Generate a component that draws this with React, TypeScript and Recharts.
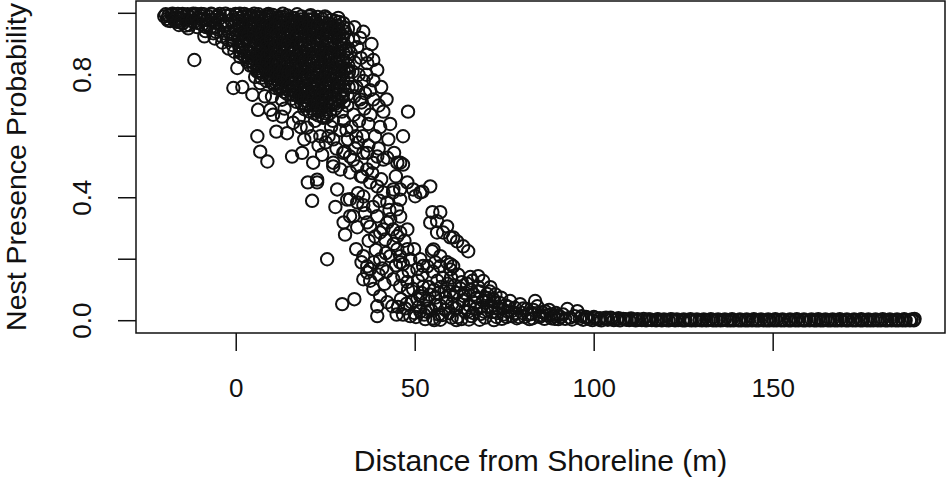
import { ScatterChart, Scatter, XAxis, YAxis, ReferenceArea, Label } from 'recharts';

type Pt = [number, number];

// distance (m), nest presence probability
const shoreBand: Pt[] = [
  [-20.1, 0.99], [-19.7, 0.997], [-19.3, 0.982], [-18.9, 0.993], [-18.4, 0.975], [-18.0, 0.996],
  [-17.6, 0.985], [-17.1, 0.992], [-16.7, 0.972], [-16.3, 0.998], [-15.8, 0.983], [-15.4, 0.994],
  [-14.9, 0.968], [-14.5, 0.99], [-14.0, 0.979], [-13.6, 0.997], [-13.1, 0.962], [-12.7, 0.986],
  [-12.2, 0.993], [-11.8, 0.971], [-11.3, 0.998], [-10.9, 0.955], [-10.4, 0.984], [-10.0, 0.992],
  [-9.5, 0.963], [-9.1, 0.997], [-8.6, 0.942], [-8.2, 0.978], [-7.7, 0.99], [-7.3, 0.952],
  [-6.8, 0.996], [-6.4, 0.935], [-5.9, 0.969], [-5.5, 0.988], [-5.0, 0.947], [-4.6, 0.998],
  [-4.1, 0.925], [-3.7, 0.975], [-3.2, 0.958], [-2.8, 0.992], [-2.3, 0.913], [-1.9, 0.94],
  [-1.4, 0.978], [-1.0, 0.897], [-0.6, 0.96], [-0.2, 0.998], [-0.5, 0.875], [-1.6, 0.995],
  [-3.0, 0.999], [-5.2, 0.992], [-7.0, 0.999], [-9.8, 0.998], [-12.0, 0.999], [-15.0, 0.998],
  [-17.8, 0.999], [-11.7, 0.848], [-16.0, 0.962], [-13.4, 0.951], [-8.9, 0.925], [-6.0, 0.918],
  [-3.9, 0.905], [-2.1, 0.885], [-0.9, 0.93],
  [-19.0, 0.976], [-17.3, 0.978], [-15.6, 0.97], [-14.2, 0.96], [-12.4, 0.975], [-10.6, 0.968],
  [-9.0, 0.982], [-7.9, 0.962], [-6.6, 0.978], [-5.7, 0.94], [-4.4, 0.962], [-3.4, 0.935],
  [-2.6, 0.965], [-1.2, 0.915], [-0.3, 0.945], [-4.8, 0.982], [-8.4, 0.955], [-11.1, 0.983],
];

const crestCore: Pt[] = [
  [0.2, 0.995], [0.6, 0.975], [1.1, 0.955], [0.4, 0.93], [1.5, 0.91], [0.9, 0.89], [1.8, 0.99], [1.3, 0.87],
  [2.3, 0.998], [2.7, 0.965], [3.1, 0.945], [2.5, 0.92], [3.6, 0.9], [2.9, 0.88], [3.8, 0.985], [3.3, 0.855], [3.9, 0.83],
  [4.2, 0.993], [4.6, 0.97], [5.1, 0.95], [4.4, 0.925], [5.6, 0.905], [4.9, 0.885], [5.8, 0.985], [5.3, 0.86], [4.7, 0.84], [5.9, 0.82],
  [6.2, 0.997], [6.6, 0.975], [7.1, 0.955], [6.4, 0.935], [7.6, 0.91], [6.9, 0.89], [7.8, 0.985], [7.3, 0.865], [6.7, 0.845], [7.9, 0.825], [7.4, 0.8],
  [8.2, 0.99], [8.7, 0.97], [9.1, 0.945], [8.4, 0.925], [9.6, 0.9], [8.9, 0.88], [9.8, 0.98], [9.3, 0.855], [8.6, 0.835], [9.9, 0.815], [9.4, 0.79],
  [10.2, 0.995], [10.6, 0.965], [11.1, 0.95], [10.4, 0.92], [11.6, 0.905], [10.9, 0.875], [11.8, 0.985], [11.3, 0.85], [10.7, 0.83], [11.9, 0.81], [11.4, 0.785], [10.5, 0.77],
  [12.2, 0.99], [12.6, 0.97], [13.1, 0.94], [12.4, 0.915], [13.6, 0.9], [12.9, 0.875], [13.8, 0.98], [13.3, 0.85], [12.7, 0.825], [13.9, 0.805], [13.4, 0.78], [12.5, 0.76],
  [14.2, 0.993], [14.7, 0.96], [15.1, 0.945], [14.4, 0.92], [15.6, 0.895], [14.9, 0.87], [15.8, 0.975], [15.3, 0.845], [14.6, 0.82], [15.9, 0.8], [15.4, 0.775], [14.5, 0.75], [15.7, 0.735],
  [16.2, 0.985], [16.6, 0.965], [17.1, 0.935], [16.4, 0.915], [17.6, 0.89], [16.9, 0.865], [17.8, 0.97], [17.3, 0.84], [16.7, 0.815], [17.9, 0.795], [17.4, 0.77], [16.5, 0.745], [17.7, 0.725],
  [18.2, 0.99], [18.7, 0.955], [19.1, 0.94], [18.4, 0.91], [19.6, 0.885], [18.9, 0.86], [19.8, 0.965], [19.3, 0.835], [18.6, 0.81], [19.9, 0.79], [19.4, 0.765], [18.5, 0.74], [19.7, 0.715], [19.1, 0.7],
  [20.2, 0.98], [20.6, 0.955], [21.1, 0.93], [20.4, 0.905], [21.6, 0.885], [20.9, 0.855], [21.8, 0.97], [21.3, 0.83], [20.7, 0.805], [21.9, 0.78], [21.4, 0.76], [20.5, 0.735], [21.7, 0.71], [21.1, 0.69],
  [22.2, 0.975], [22.7, 0.95], [23.1, 0.925], [22.4, 0.9], [23.6, 0.88], [22.9, 0.85], [23.8, 0.96], [23.3, 0.825], [22.6, 0.8], [23.9, 0.775], [23.4, 0.75], [22.5, 0.73], [23.7, 0.705], [23.0, 0.68],
  [24.2, 0.97], [24.6, 0.945], [25.1, 0.92], [24.4, 0.895], [25.6, 0.87], [24.9, 0.845], [25.8, 0.955], [25.3, 0.82], [24.7, 0.795], [25.9, 0.77], [25.4, 0.745], [24.5, 0.72], [25.7, 0.7], [25.0, 0.675], [24.3, 0.66],
  [26.2, 0.965], [26.7, 0.935], [27.1, 0.91], [26.4, 0.885], [27.6, 0.86], [26.9, 0.835], [27.8, 0.945], [27.3, 0.81], [26.6, 0.785], [27.9, 0.76], [27.4, 0.735], [26.5, 0.71], [27.7, 0.69],
  [28.3, 0.96], [28.8, 0.93], [29.4, 0.9], [28.5, 0.875], [29.9, 0.85], [29.1, 0.825], [30.4, 0.94], [29.6, 0.8], [28.7, 0.775], [30.2, 0.75], [29.5, 0.725], [28.4, 0.7], [30.6, 0.88], [30.9, 0.82],
  [28.5, 0.985], [1.0, 0.999], [5.0, 0.999], [9.0, 0.998], [13.0, 0.999], [17.0, 0.997], [20.8, 0.994], [24.8, 0.99],
];

const crestDense: Pt[] = [
  [0.8, 0.985], [0.7, 0.962], [0.9, 0.942], [0.6, 0.918], [0.8, 0.897], [1.0, 0.878],
  [2.0, 0.978], [1.9, 0.955], [2.1, 0.933], [2.0, 0.907], [1.8, 0.884], [2.2, 0.862],
  [3.4, 0.992], [3.5, 0.968], [3.3, 0.93], [3.5, 0.912], [3.4, 0.872], [3.6, 0.846],
  [4.8, 0.98], [4.7, 0.957], [4.9, 0.936], [4.8, 0.912], [4.6, 0.871], [5.0, 0.85], [4.8, 0.828],
  [6.0, 0.99], [5.9, 0.963], [6.1, 0.944], [6.0, 0.918], [5.8, 0.898], [6.2, 0.876], [6.0, 0.856], [5.9, 0.834], [6.1, 0.812],
  [7.2, 0.978], [7.0, 0.96], [7.3, 0.938], [7.1, 0.92], [7.2, 0.897], [7.0, 0.876], [7.3, 0.852], [7.1, 0.832], [7.2, 0.81], [7.0, 0.79],
  [8.5, 0.995], [8.4, 0.958], [8.6, 0.936], [8.5, 0.908], [8.3, 0.892], [8.6, 0.866], [8.4, 0.845], [8.5, 0.82], [8.7, 0.8], [8.4, 0.78],
  [9.7, 0.988], [9.6, 0.96], [9.8, 0.938], [9.6, 0.915], [9.7, 0.888], [9.5, 0.865], [9.8, 0.842], [9.6, 0.82], [9.7, 0.8], [9.8, 0.775],
  [11.0, 0.98], [10.9, 0.958], [11.1, 0.935], [11.0, 0.913], [10.8, 0.89], [11.1, 0.866], [11.0, 0.84], [10.9, 0.818], [11.1, 0.797], [11.0, 0.775], [10.9, 0.757],
  [12.0, 0.975], [12.1, 0.955], [11.9, 0.93], [12.0, 0.908], [12.2, 0.885], [12.0, 0.862], [11.9, 0.84], [12.1, 0.815], [12.0, 0.795], [11.9, 0.773], [12.1, 0.752],
  [13.2, 0.988], [13.0, 0.96], [13.3, 0.925], [13.1, 0.91], [13.2, 0.888], [13.0, 0.862], [13.3, 0.838], [13.1, 0.815], [13.2, 0.792], [13.0, 0.768], [13.3, 0.745],
  [14.4, 0.975], [14.3, 0.95], [14.5, 0.933], [14.3, 0.905], [14.5, 0.885], [14.4, 0.858], [14.2, 0.834], [14.5, 0.808], [14.3, 0.788], [14.4, 0.762], [14.2, 0.738],
  [15.6, 0.985], [15.5, 0.958], [15.7, 0.93], [15.5, 0.91], [15.6, 0.88], [15.4, 0.858], [15.7, 0.832], [15.5, 0.81], [15.6, 0.788], [15.4, 0.762], [15.7, 0.748], [15.5, 0.722],
  [16.8, 0.975], [16.7, 0.95], [16.9, 0.925], [16.8, 0.902], [16.6, 0.878], [16.9, 0.852], [16.7, 0.828], [16.8, 0.805], [16.6, 0.782], [16.9, 0.758], [16.7, 0.735], [16.8, 0.712],
  [18.0, 0.98], [17.9, 0.958], [18.1, 0.925], [18.0, 0.9], [17.8, 0.875], [18.1, 0.85], [17.9, 0.825], [18.0, 0.8], [18.1, 0.78], [17.9, 0.755], [18.0, 0.73], [18.2, 0.708],
  [19.2, 0.975], [19.1, 0.952], [19.3, 0.925], [19.2, 0.897], [19.0, 0.872], [19.3, 0.848], [19.1, 0.822], [19.2, 0.8], [19.0, 0.778], [19.3, 0.752], [19.1, 0.728], [19.2, 0.705], [19.0, 0.688],
  [20.4, 0.99], [20.3, 0.966], [20.5, 0.94], [20.4, 0.918], [20.2, 0.892], [20.5, 0.868], [20.3, 0.842], [20.4, 0.818], [20.2, 0.792], [20.5, 0.77], [20.3, 0.748], [20.4, 0.722], [20.2, 0.7], [20.5, 0.68],
  [21.6, 0.982], [21.5, 0.958], [21.7, 0.94], [21.6, 0.912], [21.4, 0.895], [21.7, 0.862], [21.5, 0.845], [21.6, 0.818], [21.4, 0.795], [21.7, 0.772], [21.5, 0.745], [21.6, 0.722], [21.4, 0.7], [21.7, 0.675],
  [22.8, 0.988], [22.7, 0.962], [22.9, 0.938], [22.8, 0.915], [22.6, 0.888], [22.9, 0.865], [22.7, 0.838], [22.8, 0.812], [22.6, 0.79], [22.9, 0.762], [22.7, 0.742], [22.8, 0.715], [22.6, 0.692], [22.9, 0.668],
  [24.0, 0.982], [23.9, 0.958], [24.1, 0.932], [24.0, 0.91], [23.8, 0.885], [24.1, 0.86], [23.9, 0.835], [24.0, 0.81], [23.8, 0.785], [24.1, 0.76], [23.9, 0.738], [24.0, 0.712], [23.8, 0.69], [24.1, 0.665],
  [25.2, 0.985], [25.1, 0.96], [25.3, 0.935], [25.2, 0.905], [25.0, 0.882], [25.3, 0.858], [25.1, 0.832], [25.2, 0.808], [25.0, 0.782], [25.3, 0.758], [25.1, 0.732], [25.2, 0.708], [25.0, 0.688], [25.3, 0.662],
  [26.4, 0.978], [26.3, 0.952], [26.5, 0.925], [26.4, 0.9], [26.2, 0.872], [26.5, 0.848], [26.3, 0.822], [26.4, 0.798], [26.2, 0.772], [26.5, 0.748], [26.3, 0.725], [26.4, 0.7], [26.2, 0.675],
  [27.6, 0.975], [27.5, 0.955], [27.7, 0.925], [27.6, 0.895], [27.4, 0.872], [27.7, 0.845], [27.5, 0.822], [27.6, 0.795], [27.4, 0.772], [27.7, 0.748], [27.5, 0.72], [27.6, 0.705],
  [28.8, 0.972], [28.7, 0.945], [28.9, 0.915], [28.8, 0.89], [28.6, 0.862], [28.9, 0.84], [28.7, 0.812], [28.8, 0.79], [28.6, 0.762], [28.9, 0.738], [28.7, 0.715],
  [30.0, 0.955], [29.9, 0.925], [30.1, 0.9], [30.0, 0.87], [29.8, 0.84], [30.1, 0.812], [29.9, 0.785], [30.0, 0.762], [29.8, 0.735], [30.1, 0.712],
  [31.2, 0.915], [31.4, 0.885], [31.1, 0.855], [31.3, 0.83], [31.2, 0.79], [31.4, 0.76], [31.1, 0.735],
];

const crestFringe: Pt[] = [
  [1.1, 0.858], [3.1, 0.842], [0.3, 0.822], [5.9, 0.81], [5.3, 0.793], [6.7, 0.773], [-0.8, 0.757], [1.7, 0.76],
  [4.5, 0.735], [10.0, 0.729], [6.1, 0.686], [9.5, 0.686], [10.3, 0.67], [12.8, 0.719], [12.8, 0.664], [15.9, 0.644],
  [19.8, 0.628], [11.2, 0.615], [14.2, 0.61], [5.9, 0.6], [23.5, 0.6], [27.1, 0.59], [6.7, 0.55], [15.6, 0.534],
  [18.4, 0.546], [8.7, 0.518], [21.5, 0.514], [27.1, 0.514],
  [29.9, 0.968], [32.7, 0.913], [34.6, 0.92], [33.8, 0.89], [36.6, 0.865], [38.3, 0.848], [36.6, 0.838], [39.4, 0.816],
  [38.3, 0.782], [37.4, 0.75], [34.6, 0.72], [38.3, 0.72], [41.1, 0.68], [48.0, 0.68], [40.2, 0.63], [42.5, 0.59],
  [46.6, 0.6], [44.1, 0.546], [46.6, 0.508], [45.8, 0.514], [41.1, 0.524], [38.3, 0.513], [35.5, 0.546], [31.8, 0.534],
  [31.2, 0.95], [32.0, 0.87], [33.1, 0.84], [31.5, 0.81], [34.2, 0.8], [32.4, 0.76], [35.6, 0.78], [33.0, 0.73],
  [31.0, 0.7], [35.8, 0.69], [32.8, 0.67], [30.1, 0.65], [34.3, 0.65], [36.9, 0.64], [29.0, 0.62], [33.5, 0.6],
  [31.2, 0.59], [35.4, 0.6], [38.8, 0.6], [28.0, 0.56], [30.3, 0.55], [33.2, 0.56], [36.9, 0.57], [39.8, 0.56],
  [25.0, 0.58], [24.0, 0.54], [19.0, 0.59], [17.5, 0.66], [22.0, 0.65], [26.5, 0.63], [36.0, 0.74], [39.8, 0.7],
  [37.5, 0.67], [43.0, 0.64], [40.5, 0.76], [42.0, 0.72], [37.8, 0.9], [35.5, 0.94], [33.0, 0.955],
  [32.5, 0.81], [34.8, 0.855], [33.6, 0.76], [35.0, 0.71], [36.4, 0.8], [30.8, 0.62], [32.2, 0.63], [34.0, 0.58],
  [29.5, 0.68], [27.0, 0.65], [25.8, 0.6], [21.0, 0.6], [18.0, 0.63], [23.0, 0.57], [13.5, 0.69], [8.0, 0.73],
];

const slopeMid: Pt[] = [
  [29.9, 0.546], [32.7, 0.524], [36.6, 0.546], [39.4, 0.534], [42.2, 0.53], [45.0, 0.514], [27.1, 0.502], [29.1, 0.492],
  [31.8, 0.482], [33.8, 0.502], [35.2, 0.469], [36.6, 0.492], [37.4, 0.45], [39.4, 0.437], [41.1, 0.417], [42.2, 0.385],
  [43.9, 0.427], [45.8, 0.394], [47.8, 0.45], [49.4, 0.427], [51.4, 0.417], [28.2, 0.427], [31.0, 0.394], [33.8, 0.385],
  [35.5, 0.404], [31.8, 0.34], [33.8, 0.304], [36.6, 0.32], [39.4, 0.34], [41.1, 0.297], [43.0, 0.33], [45.0, 0.275],
  [35.5, 0.21], [36.6, 0.177], [37.4, 0.168], [40.2, 0.2], [43.0, 0.21], [45.0, 0.233], [45.8, 0.19], [47.8, 0.233],
  [43.9, 0.135], [45.8, 0.113], [47.8, 0.126], [49.4, 0.103], [51.4, 0.08],
  [20.0, 0.45], [22.6, 0.45], [21.2, 0.39], [22.6, 0.459], [25.4, 0.2], [27.7, 0.37], [30.4, 0.28], [30.0, 0.32], [32.7, 0.34],
  [31.8, 0.395], [34.0, 0.415], [35.5, 0.376], [33.5, 0.233], [35.0, 0.19], [36.6, 0.157], [35.5, 0.135], [37.4, 0.13],
  [37.4, 0.306], [38.8, 0.274], [40.2, 0.287], [42.2, 0.319], [41.6, 0.264], [43.8, 0.297], [45.8, 0.287], [47.8, 0.297],
  [45.8, 0.339], [44.9, 0.362], [43.8, 0.417], [45.8, 0.427], [40.8, 0.17], [45.8, 0.21], [46.6, 0.184], [46.4, 0.145],
  [49.7, 0.233], [51.4, 0.2], [50.6, 0.168], [52.2, 0.178], [54.2, 0.437], [52.0, 0.42], [50.0, 0.405], [54.8, 0.353],
  [57.0, 0.353], [56.1, 0.324], [58.9, 0.307], [60.6, 0.271], [63.4, 0.242], [64.8, 0.226], [55.1, 0.232], [57.0, 0.21],
  [58.9, 0.19], [59.8, 0.167], [60.6, 0.177], [54.2, 0.319], [56.1, 0.287], [57.8, 0.287], [59.8, 0.271], [61.7, 0.258],
  [54.7, 0.226], [53.4, 0.177], [55.6, 0.19], [57.0, 0.177], [59.8, 0.184],
  [34.8, 0.47], [38.0, 0.48], [40.5, 0.46], [44.6, 0.47], [36.0, 0.35], [38.2, 0.37], [40.0, 0.39], [42.8, 0.36],
  [37.0, 0.26], [39.0, 0.23], [41.8, 0.22], [44.0, 0.25], [38.4, 0.19], [42.0, 0.16], [44.6, 0.18], [47.0, 0.26],
  [48.6, 0.2], [39.8, 0.15], [41.4, 0.12], [48.2, 0.16],
];

const toeCluster: Pt[] = [
  [29.6, 0.054], [33.0, 0.07], [39.4, 0.015], [38.3, 0.103], [40.2, 0.08], [42.2, 0.06], [43.6, 0.047], [39.4, 0.047],
  [48.6, 0.015], [51.4, 0.03], [55.3, 0.002], [44.8, 0.02], [46.0, 0.07], [47.2, 0.04], [48.0, 0.1], [49.0, 0.06], [49.8, 0.025],
  [50.2, 0.012], [51.0, 0.045], [51.8, 0.09], [52.5, 0.02], [53.1, 0.065], [53.8, 0.11], [54.4, 0.035], [55.0, 0.008],
  [55.6, 0.075], [56.2, 0.13], [56.9, 0.05], [57.5, 0.018], [58.1, 0.095], [58.8, 0.06], [59.4, 0.025], [60.0, 0.14],
  [60.7, 0.08], [61.3, 0.04], [61.9, 0.012], [62.6, 0.105], [63.2, 0.065], [63.8, 0.03], [64.5, 0.12], [65.1, 0.05],
  [65.7, 0.015], [66.4, 0.085], [67.0, 0.04], [67.6, 0.11], [68.3, 0.022], [68.9, 0.065], [69.5, 0.01], [70.2, 0.045],
  [70.8, 0.095], [71.4, 0.028], [72.1, 0.06], [72.7, 0.012], [73.3, 0.04], [74.0, 0.075], [74.6, 0.02], [75.2, 0.05],
  [50.8, 0.13], [52.0, 0.15], [54.9, 0.16], [57.7, 0.14], [59.0, 0.12], [61.0, 0.115], [62.0, 0.15], [64.0, 0.09],
  [66.0, 0.13], [55.3, 0.1], [53.5, 0.04], [58.4, 0.035], [62.9, 0.005], [60.3, 0.055], [56.5, 0.09], [66.8, 0.058],
  [69.8, 0.075], [71.8, 0.07], [70.1, 0.087], [71.0, 0.109], [69.0, 0.129], [67.6, 0.145], [65.4, 0.142],
  [52.8, 0.005], [57.0, 0.003], [61.5, 0.002], [65.0, 0.004], [68.0, 0.003], [72.0, 0.002], [74.2, 0.006],
  [50.6, 0.07], [52.2, 0.11], [53.0, 0.03], [54.0, 0.085], [55.8, 0.05], [56.6, 0.02], [57.2, 0.11], [58.5, 0.075],
  [59.6, 0.095], [60.2, 0.01], [61.6, 0.09], [62.2, 0.055], [63.0, 0.125], [63.6, 0.08], [64.8, 0.03], [65.6, 0.1],
  [66.2, 0.025], [67.2, 0.075], [68.0, 0.095], [68.6, 0.045], [69.2, 0.03], [70.5, 0.065], [71.2, 0.045], [72.4, 0.085],
  [73.0, 0.025], [73.6, 0.058], [74.4, 0.038], [75.5, 0.012], [76.0, 0.045], [47.6, 0.055], [46.6, 0.02], [45.2, 0.045],
  [75.8, 0.03], [76.5, 0.064], [77.1, 0.015], [77.8, 0.042], [78.4, 0.008], [79.3, 0.054], [79.9, 0.025], [80.6, 0.012],
  [81.2, 0.038], [81.9, 0.005], [82.5, 0.022], [83.5, 0.064], [84.1, 0.047], [84.8, 0.012], [85.4, 0.028], [86.1, 0.006],
  [86.7, 0.018], [87.4, 0.035], [88.0, 0.008], [88.7, 0.015], [89.3, 0.025], [90.0, 0.005], [90.6, 0.012], [91.3, 0.02],
  [91.9, 0.006], [92.5, 0.038], [93.2, 0.01], [93.8, 0.004], [94.5, 0.015], [95.3, 0.031],
  [76.8, 0.03], [78.0, 0.025], [79.0, 0.012], [80.2, 0.04], [81.5, 0.02], [82.8, 0.008], [83.0, 0.035], [85.0, 0.018],
  [86.4, 0.03], [87.8, 0.02], [89.0, 0.006], [89.8, 0.018],
];

const flatTail: Pt[] = [
  [96.0, 0.008], [96.9, 0.003], [97.7, 0.012], [98.6, 0.005], [99.5, 0.002], [100.3, 0.009], [101.2, 0.004], [102.0, 0.001],
  [102.9, 0.007], [103.8, 0.003], [104.6, 0.01], [105.5, 0.002], [106.4, 0.005], [107.2, 0.001], [108.1, 0.006], [109.0, 0.003],
  [109.8, 0.002], [110.7, 0.004], [111.6, 0.001], [112.4, 0.003], [113.3, 0.002], [114.5, 0.001], [115.2, 0.004], [116.1, 0.002],
  [117.3, 0.001], [118.0, 0.003], [118.9, 0.001], [120.1, 0.002], [120.8, 0.001], [121.9, 0.003], [122.6, 0.001], [123.5, 0.002],
  [124.7, 0.001], [125.4, 0.001], [126.6, 0.002], [127.2, 0.001], [128.3, 0.001], [129.4, 0.002], [130.1, 0.001], [131.3, 0.001],
  [132.0, 0.002], [133.2, 0.001], [134.1, 0.001], [135.3, 0.001], [136.0, 0.002], [137.2, 0.001], [138.1, 0.001], [139.0, 0.001],
  [140.3, 0.001], [141.1, 0.001], [142.2, 0.001], [143.0, 0.001], [144.1, 0.001], [145.2, 0.001], [146.0, 0.001], [147.3, 0.001],
  [148.2, 0.001], [149.0, 0.001], [150.1, 0.001], [151.0, 0.001], [152.2, 0.001], [153.1, 0.001], [154.3, 0.001], [155.0, 0.001],
  [156.2, 0.001], [157.1, 0.001], [158.3, 0.001], [159.0, 0.001], [160.2, 0.001], [161.4, 0.001], [162.1, 0.001], [163.2, 0.001],
  [164.0, 0.001], [165.3, 0.001], [166.1, 0.001], [167.2, 0.001], [168.0, 0.001], [169.1, 0.001], [170.3, 0.001], [171.0, 0.001],
  [172.2, 0.001], [173.1, 0.001], [174.3, 0.001], [175.0, 0.001], [176.2, 0.001], [177.1, 0.001], [178.0, 0.001], [179.2, 0.001],
  [180.1, 0.001], [181.3, 0.001], [182.0, 0.001], [183.1, 0.001], [184.2, 0.001], [185.0, 0.001], [186.1, 0.001], [187.0, 0.001],
  [188.2, 0.001], [189.3, 0.001],
  [96.5, 0.015], [98.1, 0.01], [99.9, 0.012], [101.6, 0.008], [103.3, 0.01], [105.0, 0.006], [106.8, 0.008], [108.6, 0.005],
  [110.3, 0.007], [112.0, 0.005], [113.8, 0.006], [115.6, 0.004], [117.7, 0.005], [119.5, 0.004], [121.4, 0.005], [123.1, 0.004],
  [125.0, 0.004], [126.9, 0.005], [128.7, 0.004], [130.6, 0.004], [132.6, 0.005], [134.6, 0.004], [136.5, 0.004], [138.5, 0.005],
  [140.7, 0.004], [142.6, 0.004], [144.6, 0.005], [146.6, 0.004], [148.6, 0.004], [150.6, 0.005], [152.6, 0.004], [154.7, 0.004],
  [156.6, 0.005], [158.6, 0.004], [160.7, 0.004], [162.6, 0.005], [164.6, 0.004], [166.6, 0.004], [168.6, 0.005], [170.6, 0.004],
  [172.6, 0.004], [174.6, 0.005], [176.6, 0.004], [178.6, 0.004], [180.6, 0.005], [182.6, 0.004], [184.6, 0.004], [186.6, 0.005],
  [188.7, 0.004], [189.5, 0.006],
];

const xTicks = [0, 50, 100, 150];
const yTicks = [0, 0.2, 0.4, 0.6, 0.8, 1];
const yTickLabels = ['0.0', '', '0.4', '', '0.8', ''];

const points = [...shoreBand, ...crestCore, ...crestDense, ...crestFringe, ...slopeMid, ...toeCluster, ...flatTail].map(
  ([distance, prob]) => ({ distance, prob })
);

const FONT = '"Liberation Sans", Arial, sans-serif';
const INK = '#111';

const XTick = ({ x, y, payload }: any) => (
  <text x={x} y={y + 35} textAnchor="middle" dominantBaseline="central" fontSize={26} fontFamily={FONT} fill={INK}>
    {payload.value}
  </text>
);

const YTick = ({ x, y, index }: any) => {
  const label = yTickLabels[index];
  if (!label) return null;
  const cx = x - 34;
  return (
    <text x={cx} y={y} transform={`rotate(-90 ${cx} ${y})`} textAnchor="middle" dominantBaseline="central" fontSize={26} fontFamily={FONT} fill={INK}>
      {label}
    </text>
  );
};

const Ring = (p: any) => <circle cx={p.cx} cy={p.cy} r={6.2} fill="none" stroke={INK} strokeWidth={2} />;

export default function App() {
  return (
    <div style={{ position: 'absolute', left: 0, top: 0, width: 950, height: 479, background: '#fff' }}>
      <ScatterChart width={950} height={479} margin={{ top: 1, right: 5, bottom: 0, left: 0 }}>
        <XAxis
          type="number"
          dataKey="distance"
          domain={[-28, 198]}
          allowDataOverflow
          ticks={xTicks}
          height={146}
          tickSize={18}
          axisLine={false}
          tickLine={{ stroke: INK, strokeWidth: 1.5 }}
          tick={<XTick />}
        >
          <Label
            content={({ viewBox }: any) => (
              <text x={viewBox.x + viewBox.width / 2} y={viewBox.y + 127} textAnchor="middle" dominantBaseline="central" fontSize={30} fontFamily={FONT} fill={INK}>
                Distance from Shoreline (m)
              </text>
            )}
          />
        </XAxis>
        <YAxis
          type="number"
          dataKey="prob"
          domain={[-0.04, 1.04]}
          allowDataOverflow
          ticks={yTicks}
          width={136}
          tickSize={18}
          axisLine={false}
          tickLine={{ stroke: INK, strokeWidth: 1.5 }}
          tick={<YTick />}
        >
          <Label
            content={({ viewBox }: any) => {
              const cx = 16;
              const cy = viewBox.y + viewBox.height / 2;
              return (
                <text x={cx} y={cy} transform={`rotate(-90 ${cx} ${cy})`} textAnchor="middle" dominantBaseline="central" fontSize={28.5} fontFamily={FONT} fill={INK}>
                  Nest Presence Probability
                </text>
              );
            }}
          />
        </YAxis>
        <Scatter data={points} shape={Ring} isAnimationActive={false} />
        <ReferenceArea x1={-28} x2={198} y1={-0.04} y2={1.04} fill="none" stroke={INK} strokeWidth={1.5} />
      </ScatterChart>
    </div>
  );
}
